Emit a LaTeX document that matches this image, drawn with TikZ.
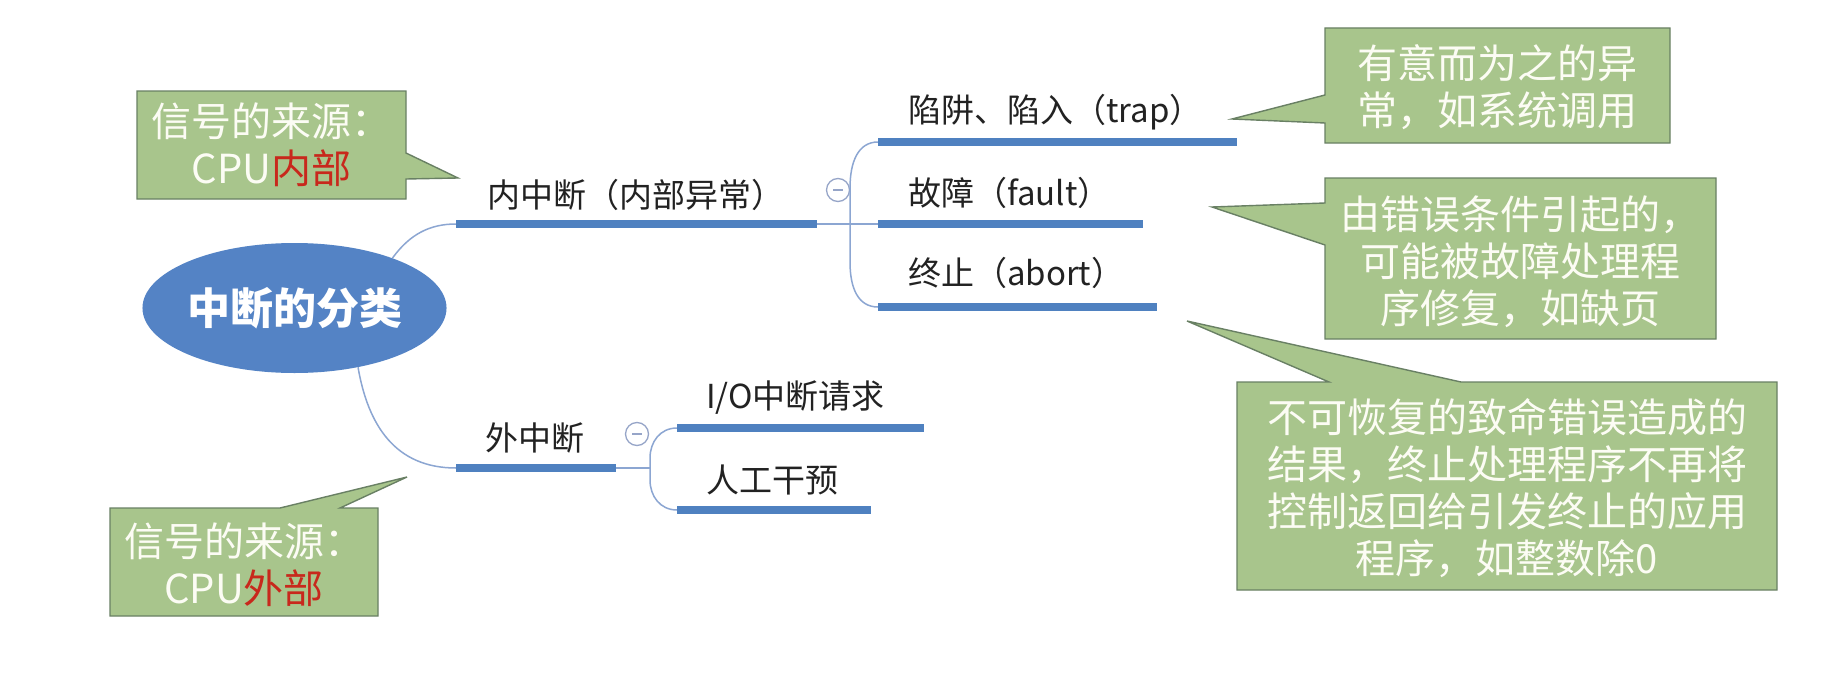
\documentclass[tikz,border=0pt]{standalone}
\usepackage{fontspec}
\setmainfont{Noto Sans CJK SC}
\usetikzlibrary{shapes.geometric}
\definecolor{mainblue}{RGB}{84,131,197}
\definecolor{barblue}{RGB}{79,129,192}
\definecolor{thinblue}{RGB}{140,166,210}
\definecolor{cfill}{RGB}{168,197,140}
\definecolor{cborder}{RGB}{105,128,100}
\definecolor{ctextc}{RGB}{252,252,244}
\definecolor{redtxt}{RGB}{200,40,28}
\definecolor{nodetxt}{RGB}{34,34,34}
\definecolor{circgray}{RGB}{150,165,200}
\tikzset{
  branchbar/.style={barblue, line width=7.5pt},
  thinline/.style={thinblue, line width=1.5pt},
  lbl/.style={anchor=west, inner sep=0pt, text=nodetxt, font=\fontsize{33pt}{38pt}\selectfont},
  calloutbox/.style={fill=cfill, draw=cborder, line width=1.4pt, line join=miter},
  ctext/.style={align=center, inner sep=0pt, text=ctextc, font=\fontsize{40pt}{47pt}\selectfont},
  collapse/.style={circle, draw=circgray, fill=white, line width=1.3pt, minimum size=23pt, inner sep=0pt,
    path picture={\draw[circgray, line width=1.6pt] ([xshift=-5pt]path picture bounding box.center) -- ([xshift=5pt]path picture bounding box.center);}},
}
\begin{document}
\begin{tikzpicture}[x=1pt,y=-1pt]
\useasboundingbox (0,0) rectangle (1833,685);
\fill[white] (0,0) rectangle (1833,685);

% root
\node[ellipse, fill=mainblue, minimum width=295pt, minimum height=130pt, inner sep=0pt,
      text=white, font=\fontsize{43pt}{48pt}\selectfont\bfseries] (root) at (294.5,308) {中断的分类};

% inner interrupt branch
\coordinate (inA) at (456,224);
\coordinate (inB) at (817,224);
\coordinate (inJ) at (850,224);
\draw[thinline] (root.27) .. controls (410,234) and (430,224) .. (inA);
\draw[branchbar] (inA) -- (inB);
\node[lbl] (inT) at (487,195) {内中断（内部异常）};
\node[collapse] (inC) at (838,190) {};

\coordinate (t1) at (878,142); \coordinate (t2) at (1237,142);
\coordinate (f1) at (878,224); \coordinate (f2) at (1143,224);
\coordinate (a1) at (878,307); \coordinate (a2) at (1157,307);
\draw[thinline] (inB) -- (f1);
\draw[thinline] (t1) .. controls (858,142) and (850,162) .. (850,188) -- (850,262) .. controls (850,288) and (858,307) .. (a1);
\draw[branchbar] (t1) -- (t2);
\draw[branchbar] (f1) -- (f2);
\draw[branchbar] (a1) -- (a2);
\node[lbl] (trapT) at (908,112) {陷阱、陷入（trap）};
\node[lbl] (faultT) at (908,193) {故障（fault）};
\node[lbl] (abortT) at (908,273) {终止（abort）};

% outer interrupt branch
\coordinate (outA) at (456,468);
\coordinate (outB) at (616,468);
\coordinate (oJ) at (650,468);
\draw[thinline] (root.-43) .. controls (368,425) and (395,468) .. (outA);
\draw[branchbar] (outA) -- (outB);
\node[lbl] (outT) at (485,438) {外中断};
\node[collapse] (outC) at (637,434) {};
\coordinate (io1) at (677,428); \coordinate (io2) at (924,428);
\coordinate (hu1) at (677,510); \coordinate (hu2) at (871,510);
\draw[thinline] (outB) -- (oJ);
\draw[thinline] (io1) .. controls (660,428) and (650,442) .. (650,458) -- (650,480) .. controls (650,496) and (660,510) .. (hu1);
\draw[branchbar] (io1) -- (io2);
\draw[branchbar] (hu1) -- (hu2);
\node[lbl] (ioT) at (706,398) {I/O中断请求};
\node[lbl] (huT) at (706,480) {人工干预};

% callouts
\draw[calloutbox] (137,91) -- (406,91) -- (406,153) -- (458,178) -- (406,179) -- (406,199) -- (137,199) -- cycle;
\node[ctext] (cIn) at (271.5,145) {信号的来源：\\CPU\textcolor{redtxt}{内部}};

\draw[calloutbox] (110,508) -- (280,508) -- (407,477) -- (340,508) -- (378,508) -- (378,616) -- (110,616) -- cycle;
\node[ctext] (cOut) at (244,565) {信号的来源：\\CPU\textcolor{redtxt}{外部}};

\draw[calloutbox] (1325,28) -- (1670,28) -- (1670,143) -- (1325,143) -- (1325,123) -- (1232,119) -- (1325,95) -- cycle;
\node[ctext] (cTrap) at (1497.5,87) {有意而为之的异\\常，如系统调用};

\draw[calloutbox] (1325,178) -- (1716,178) -- (1716,339) -- (1325,339) -- (1325,245) -- (1212,207) -- (1325,203) -- cycle;
\node[ctext] (cFault) at (1520.5,262) {由错误条件引起的，\\可能被故障处理程\\序修复，如缺页};

\draw[calloutbox] (1237,382) -- (1329,382) -- (1187,321) -- (1461,382) -- (1777,382) -- (1777,590) -- (1237,590) -- cycle;
\node[ctext] (cAbort) at (1507,488) {不可恢复的致命错误造成的\\结果，终止处理程序不再将\\控制返回给引发终止的应用\\程序，如整数除0};
\end{tikzpicture}
\end{document}
